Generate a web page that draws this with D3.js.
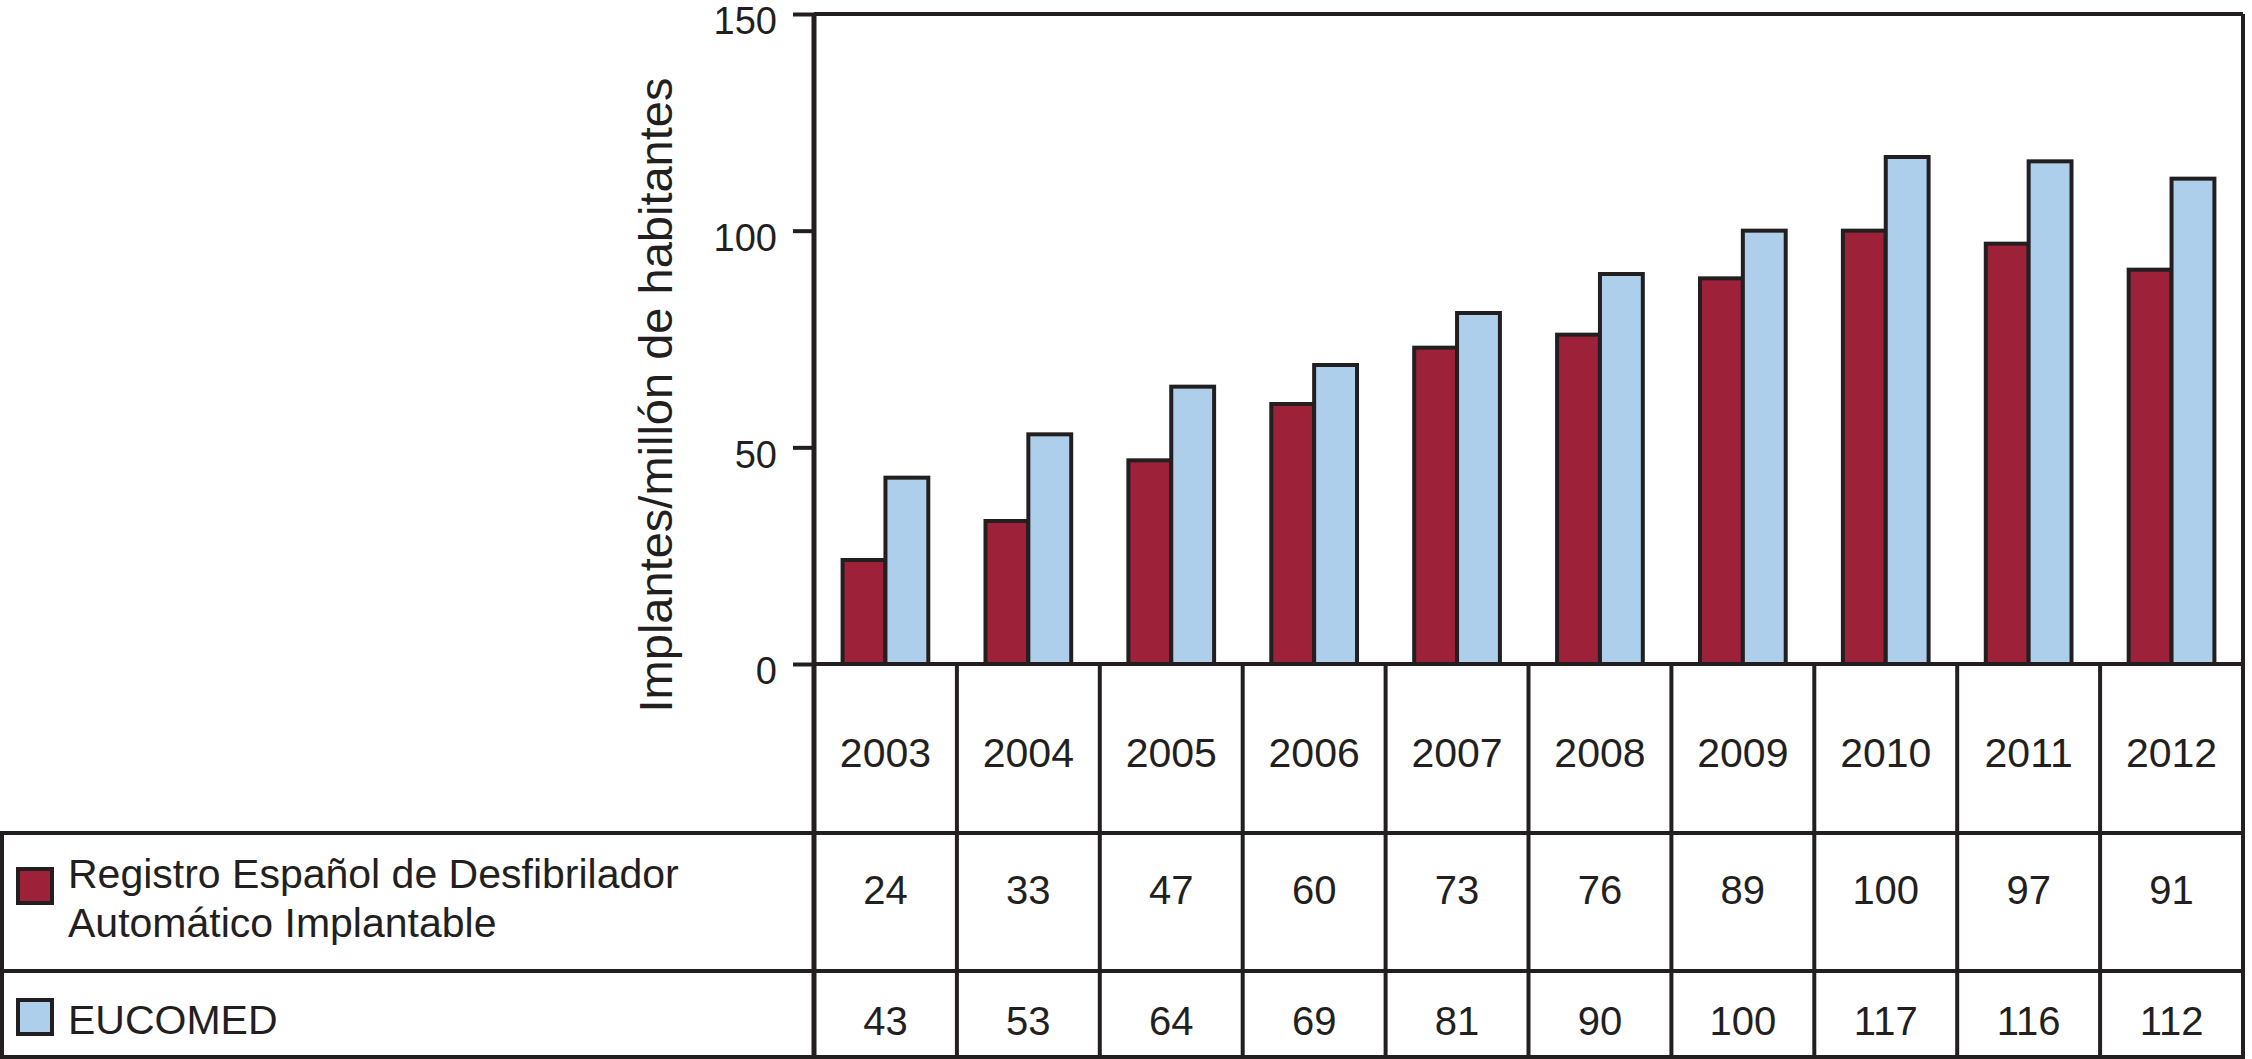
<!DOCTYPE html>
<html>
<head>
<meta charset="utf-8">
<script src="https://cdn.jsdelivr.net/npm/d3@7"></script>
<style>
  html, body { margin: 0; padding: 0; background: #fff; }
  svg { display: block; }
  text { font-family: "Liberation Sans", Arial, sans-serif; fill: #231f20; }
</style>
</head>
<body>
<svg id="chart" width="2252" height="1059"></svg>
<script>
// data
const years = ['2003', '2004', '2005', '2006', '2007', '2008', '2009', '2010', '2011', '2012'];
const seriesNames = ['Registro Español de Desfibrilador Automático Implantable', 'EUCOMED'];
const registroValues = [24, 33, 47, 60, 73, 76, 89, 100, 97, 91];
const eucomedValues = [43, 53, 64, 69, 81, 90, 100, 117, 116, 112];
const yTicks = [0, 50, 100, 150];
const yTitle = 'Implantes/millón de habitantes';
const legendLines = [['Registro Español de Desfibrilador', 'Automático Implantable'], ['EUCOMED']];

const ink = '#231f20',
    colors = ['#9c2139', '#aecfeb'],
    lineW = 4;

// layout
const plot = {left: 814, right: 2243, top: 14, bottom: 664},
    table = {left: 2, header: 833, row1: 971, bottom: 1057};

const svg = d3.select('#chart');

const x0 = d3.scaleBand()
    .domain(years)
    .range([plot.left, plot.right])
    .padding(0);

const x1 = d3.scaleBand()
    .domain(d3.range(seriesNames.length))
    .range([0, x0.bandwidth()])
    .paddingInner(0)
    .paddingOuter(0.667);

const y = d3.scaleLinear()
    .domain([0, 150])
    .range([plot.bottom, plot.top]);

const rows = years.map(function(yr, i) {
  return {year: yr, values: [registroValues[i], eucomedValues[i]]};
});

// bars
const groups = svg.append('g').selectAll('g')
    .data(rows)
    .enter().append('g')
    .attr('transform', function(d) { return 'translate(' + x0(d.year) + ',0)'; });

groups.selectAll('rect')
    .data(function(d) { return d.values; })
    .enter().append('rect')
    .attr('x', function(d, i) { return x1(i); })
    .attr('y', function(d) { return y(d); })
    .attr('width', x1.bandwidth())
    .attr('height', function(d) { return y(0) - y(d); })
    .attr('fill', function(d, i) { return colors[i]; })
    .attr('stroke', ink)
    .attr('stroke-width', lineW);

// y axis
const yAxis = svg.append('g')
    .attr('transform', 'translate(' + plot.left + ',0)')
    .call(d3.axisLeft(y).tickValues(yTicks).tickSize(21).tickSizeOuter(0).tickPadding(16));

yAxis.select('.domain').remove();
yAxis.selectAll('.tick line').attr('stroke', ink).attr('stroke-width', lineW);
yAxis.selectAll('.tick text')
    .attr('font-size', 38)
    .attr('font-family', '"Liberation Sans", Arial, sans-serif')
    .attr('fill', ink)
    .attr('dy', '0.52em');

svg.append('text')
    .attr('transform', 'translate(672,395) rotate(-90)')
    .attr('text-anchor', 'middle')
    .attr('font-size', 47)
    .text(yTitle);

// frame and table lines
const lines = svg.append('g')
    .attr('stroke', ink)
    .attr('stroke-width', lineW)
    .attr('fill', 'none');

lines.append('line').attr('x1', plot.left).attr('x2', plot.right).attr('y1', plot.top).attr('y2', plot.top);
lines.append('line').attr('x1', plot.right).attr('x2', plot.right).attr('y1', plot.top).attr('y2', table.bottom);
lines.append('line').attr('x1', plot.left).attr('x2', plot.left).attr('y1', plot.top).attr('y2', table.bottom)
    .attr('stroke-width', 5);
lines.append('line').attr('x1', plot.left).attr('x2', plot.right).attr('y1', y(0)).attr('y2', y(0));

lines.append('rect')
    .attr('x', table.left).attr('y', table.header)
    .attr('width', plot.right - table.left).attr('height', table.bottom - table.header);
lines.append('line').attr('x1', table.left).attr('x2', plot.right).attr('y1', table.row1).attr('y2', table.row1);

lines.selectAll('line.col')
    .data(years.slice(1))
    .enter().append('line')
    .attr('class', 'col')
    .attr('x1', function(d) { return x0(d); })
    .attr('x2', function(d) { return x0(d); })
    .attr('y1', y(0))
    .attr('y2', table.bottom);

// year labels
svg.append('g').selectAll('text')
    .data(years)
    .enter().append('text')
    .attr('x', function(d) { return x0(d) + x0.bandwidth() / 2; })
    .attr('y', 767)
    .attr('text-anchor', 'middle')
    .attr('font-size', 41)
    .text(function(d) { return d; });

// value rows
const rowBaselines = [904, 1035];
[registroValues, eucomedValues].forEach(function(vals, s) {
  svg.append('g').selectAll('text')
      .data(vals)
      .enter().append('text')
      .attr('x', function(d, i) { return x0(years[i]) + x0.bandwidth() / 2; })
      .attr('y', rowBaselines[s])
      .attr('text-anchor', 'middle')
      .attr('font-size', 40)
      .text(function(d) { return d; });
});

// legend cells
const swatchTops = [869, 1000],
    legendBaselines = [[888, 937], [1034]];

seriesNames.forEach(function(name, s) {
  svg.append('rect')
      .attr('x', 18).attr('y', swatchTops[s])
      .attr('width', 34).attr('height', 34)
      .attr('fill', colors[s])
      .attr('stroke', ink)
      .attr('stroke-width', lineW);

  svg.append('g').selectAll('text')
      .data(legendLines[s])
      .enter().append('text')
      .attr('x', 68)
      .attr('y', function(d, i) { return legendBaselines[s][i]; })
      .attr('font-size', 41)
      .text(function(d) { return d; });
});
</script>
</body>
</html>
